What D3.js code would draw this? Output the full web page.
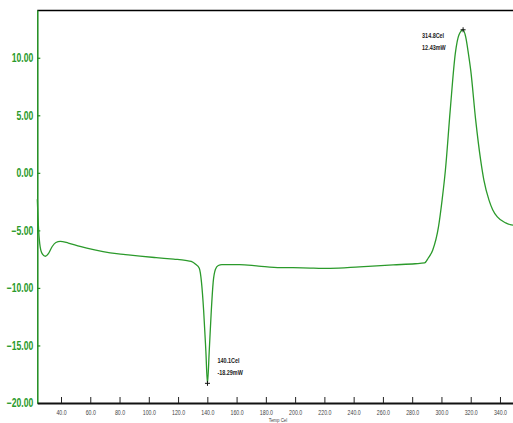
<!DOCTYPE html>
<html>
<head>
<meta charset="utf-8">
<script src="https://cdn.jsdelivr.net/npm/d3@7"></script>
<style>
  body { margin: 0; background: #fff; }
  svg { display: block; }
</style>
</head>
<body>
<div id="chart"></div>
<script>
// DSC curve: temperature (Cel) and heat flow (mW)
const temps = [23.8, 24.5, 25.5, 27, 29.3, 31.5, 34, 36.5, 39.5, 45, 53, 63, 73.6, 84, 94, 105, 117, 125, 129, 132,
  134.5, 136, 137.5, 139, 140.1, 141.3, 142.7, 144, 145.5, 147.5, 150, 162, 175, 190, 205, 224, 244, 267, 282, 288.5,
  291, 294, 298, 300.5, 302.7, 306, 309.5, 312, 314.8, 316.6, 318.5, 320, 323.4, 326.8, 329, 332.5, 335, 338.2, 343.9, 347, 349];
const heatFlow = [-2.3, -4.5, -6.2, -7.0, -7.25, -7.0, -6.4, -6.05, -5.95, -6.1, -6.4, -6.7, -6.95, -7.1, -7.24, -7.37, -7.5, -7.6, -7.7, -7.95,
  -8.3, -9.5, -12, -15.5, -18.29, -15.5, -12, -9.5, -8.4, -8.05, -7.97, -7.97, -8.1, -8.23, -8.25, -8.3, -8.17, -8.0, -7.9, -7.83,
  -7.4, -6.72, -4.67, -2.3, 0.23, 5.45, 10.4, 12.0, 12.43, 11.8, 10.3, 8.93, 4.58, 1.1, -0.63, -2.37, -3.2, -3.83, -4.35, -4.5, -4.55];

const xTicks = [40, 60, 80, 100, 120, 140, 160, 180, 200, 220, 240, 260, 280, 300, 320, 340];
const yTicks = [-20, -15, -10, -5, 0, 5, 10];

const peaks = [
  { t: 140.1, v: -18.29, lines: ["140.1Cel", "-18.29mW"], dx: 10, dy: -20 },
  { t: 314.8, v: 12.43, lines: ["314.8Cel", "12.43mW"], dx: -41, dy: 8 }
];

let width = 513, height = 423;
let marginLeft = 37.3, plotTop = 10, plotBottom = 403;
let font = "'Liberation Sans', Arial, sans-serif";

let x = d3.scaleLinear().domain([23.8, 348.9]).range([marginLeft, width]);
let y = d3.scaleLinear().domain([-20, 14.15]).range([plotBottom, plotTop]);

let svg = d3.select("#chart").append("svg")
  .attr("width", width)
  .attr("height", height);

let green = "#2b9a2b";

// squeeze a text horizontally around its x position (the original uses a narrow font)
function condense(sel, sx) {
  sel.each(function () {
    let t = d3.select(this);
    let x0 = +t.attr("x") || 0;
    t.attr("x", x0 / sx).attr("transform", "scale(" + sx + ",1)");
  });
}

// top frame line
svg.append("line")
  .attr("x1", marginLeft).attr("x2", width)
  .attr("y1", plotTop + 0.5).attr("y2", plotTop + 0.5)
  .attr("stroke", "#000").attr("stroke-width", 1.5);

let yAxis = svg.append("g")
  .attr("transform", "translate(" + marginLeft + ",0)")
  .call(d3.axisLeft(y).tickValues(yTicks).tickFormat(d3.format(".2f")).tickSize(-3).tickSizeOuter(0).tickPadding(4));

yAxis.select(".domain").attr("stroke", "#1e8c1e").attr("stroke-width", 1.5);
yAxis.selectAll(".tick line").attr("stroke", "#1e8c1e").attr("stroke-width", 1.2);
yAxis.selectAll(".tick text")
  .attr("fill", green)
  .attr("font-family", font)
  .attr("font-weight", "bold")
  .attr("font-size", "12px")
  .call(condense, 0.72);

let xAxis = svg.append("g")
  .attr("transform", "translate(0," + plotBottom + ")")
  .call(d3.axisBottom(x).tickValues(xTicks).tickFormat(d3.format(".1f")).tickSize(-6).tickSizeOuter(0).tickPadding(7));

xAxis.select(".domain").attr("stroke", "#111").attr("stroke-width", 2);
xAxis.selectAll(".tick line").attr("stroke", "#222").attr("stroke-width", 1);
xAxis.selectAll(".tick text")
  .attr("fill", "#444")
  .attr("font-family", font)
  .attr("font-size", "7px")
  .call(condense, 0.75);

svg.append("text")
  .attr("x", 278).attr("y", 422.5)
  .attr("text-anchor", "middle")
  .attr("fill", "#444")
  .attr("font-family", font)
  .attr("font-size", "5.5px")
  .text("Temp Cel")
  .call(condense, 0.8);

let points = temps.map((t, i) => ({ t: t, v: heatFlow[i] }));

let line = d3.line()
  .x(d => x(d.t))
  .y(d => y(d.v))
  .curve(d3.curveMonotoneX);

svg.append("path")
  .datum(points)
  .attr("fill", "none")
  .attr("stroke", green)
  .attr("stroke-width", 1.3)
  .attr("d", line);

// peak markers and labels
let marks = svg.append("g").selectAll("g")
  .data(peaks)
  .enter()
  .append("g");

marks.append("path")
  .attr("d", d => {
    let cx = x(d.t), cy = y(d.v);
    return "M" + (cx - 2.5) + "," + cy + "H" + (cx + 2.5) + "M" + cx + "," + (cy - 2.5) + "V" + (cy + 2.5);
  })
  .attr("stroke", "#111")
  .attr("stroke-width", 1);

marks.each(function (d) {
  let g = d3.select(this);
  d.lines.forEach((s, i) => {
    g.append("text")
      .attr("x", x(d.t) + d.dx)
      .attr("y", y(d.v) + d.dy + i * 12)
      .attr("fill", "#222")
      .attr("font-family", font)
      .attr("font-weight", "bold")
      .attr("font-size", "8px")
      .text(s)
      .call(condense, 0.68);
  });
});
</script>
</body>
</html>
